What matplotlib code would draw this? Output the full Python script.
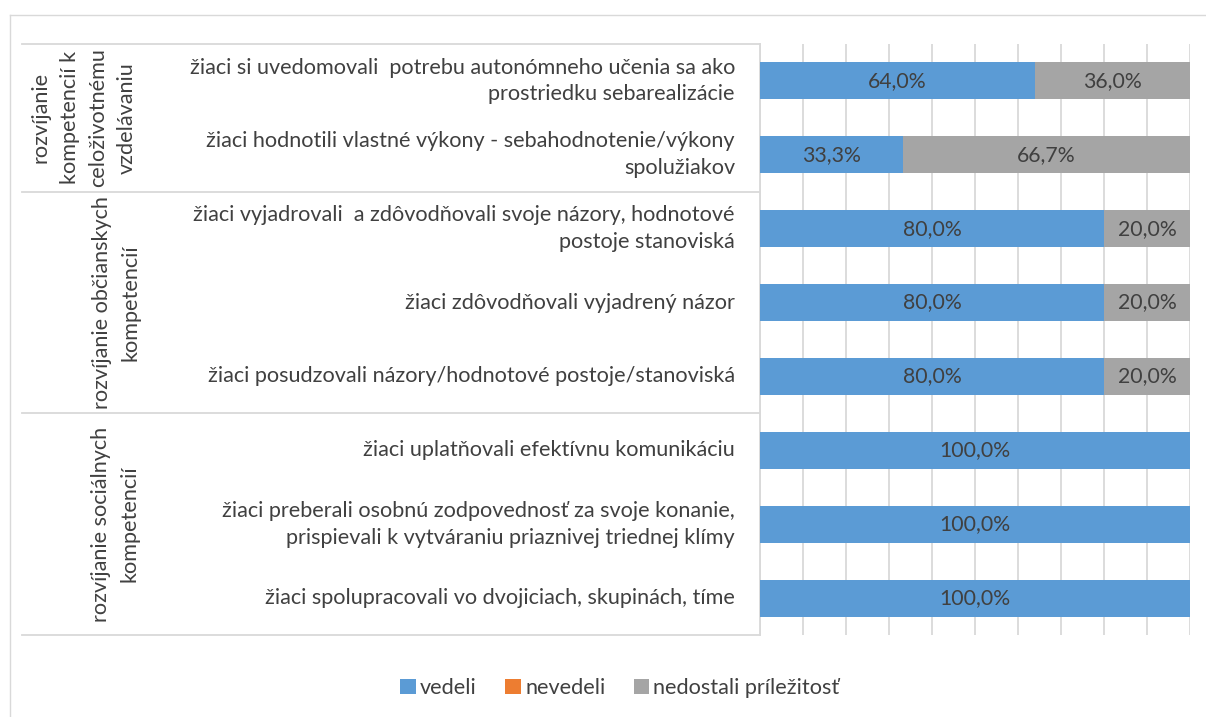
import matplotlib.pyplot as plt
from matplotlib.transforms import blended_transform_factory
from matplotlib.patches import Patch
from matplotlib.lines import Line2D

plt.rcParams['font.family'] = ['Lato', 'DejaVu Sans']

# categories, top to bottom
labels = [
    "žiaci si uvedomovali  potrebu autonómneho učenia sa ako\nprostriedku sebarealizácie",
    "žiaci hodnotili vlastné výkony - sebahodnotenie/výkony\nspolužiakov",
    "žiaci vyjadrovali  a zdôvodňovali svoje názory, hodnotové\npostoje stanoviská",
    "žiaci zdôvodňovali vyjadrený názor",
    "žiaci posudzovali názory/hodnotové postoje/stanoviská",
    "žiaci uplatňovali efektívnu komunikáciu",
    "žiaci preberali osobnú zodpovednosť za svoje konanie,\nprispievali k vytváraniu priaznivej triednej klímy",
    "žiaci spolupracovali vo dvojiciach, skupinách, tíme",
]
groups = [
    "rozvíjanie\nkompetencií k\nceloživotnému\nvzdelávaniu",
    "rozvíjanie občianskych\nkompetencií",
    "rozvíjanie sociálnych\nkompetencií",
]
group_sizes = [2, 3, 3]

vedeli = [64.0, 33.3, 80.0, 80.0, 80.0, 100.0, 100.0, 100.0]
nevedeli = [0, 0, 0, 0, 0, 0, 0, 0]
nedostali = [36.0, 66.7, 20.0, 20.0, 20.0, 0, 0, 0]

series_names = ["vedeli", "nevedeli", "nedostali príležitosť"]
colors = ["#5B9BD5", "#ED7D31", "#A5A5A5"]
txt = "#404040"
grid = "#D9D9D9"

W, H = 1206, 717
fig = plt.figure(figsize=(W / 100, H / 100), dpi=100)
ax = fig.add_axes([760 / W, 1 - 635 / H, (1190 - 760) / W, (635 - 44) / H])

y = list(range(len(labels)))
left = [0] * len(labels)
for vals, name, c in zip([vedeli, nevedeli, nedostali], series_names, colors):
    bars = ax.barh(y, vals, left=left, height=0.5, color=c, label=name, zorder=3)
    for b, v in zip(bars, vals):
        if v > 0:
            ax.text(b.get_x() + b.get_width() / 2, b.get_y() + b.get_height() / 2,
                    f"{v:.1f}%".replace(".", ","), ha="center", va="center",
                    fontsize=15.3, color=txt, zorder=4)
    left = [l + v for l, v in zip(left, vals)]

ax.set_xlim(0, 100)
ax.set_ylim(len(labels) - 0.5, -0.5)
ax.set_xticks(range(0, 101, 10))
ax.xaxis.grid(True, color=grid, linewidth=1.3, zorder=0)
ax.tick_params(left=False, bottom=False, labelleft=False, labelbottom=False)
for s in ["top", "right", "bottom"]:
    ax.spines[s].set_visible(False)
ax.spines["left"].set_color(grid)
ax.spines["left"].set_linewidth(1.3)

# category labels
tr = blended_transform_factory(fig.transFigure, ax.transData)
for i, lab in enumerate(labels):
    ax.text(735 / W, i, lab, transform=tr, ha="right", va="center",
            fontsize=15.6, color=txt, linespacing=1.42)

# group separators and group labels
group_x = [84, 116, 115]
pos = -0.5
edges = [pos]
for g, n, gx in zip(groups, group_sizes, group_x):
    ax.text(gx / W, pos + n / 2, g, transform=tr, rotation=90, ha="center",
            va="center", multialignment="center", fontsize=15.6, color=txt,
            linespacing=1.55)
    pos += n
    edges.append(pos)
for e in edges:
    ax.add_line(Line2D([22 / W, 760 / W], [e, e], transform=tr, color=grid,
                       linewidth=1.3, clip_on=False))

# outer chart border
fig.add_artist(Line2D([10 / W, 10 / W], [0, 1 - 15 / H], color="#D9D9D9", linewidth=1))
fig.add_artist(Line2D([10 / W, 1], [1 - 15 / H, 1 - 15 / H], color="#D9D9D9", linewidth=1))

handles = [Patch(facecolor=c) for c in colors]
fig.legend(handles, series_names, loc="center", bbox_to_anchor=(620 / W, 1 - 688 / H),
           ncol=3, frameon=False, fontsize=15.6, labelcolor=txt, handlelength=0.72,
           handleheight=0.72, handletextpad=0.2, columnspacing=1.3)

fig.savefig("out.png", dpi=100)
